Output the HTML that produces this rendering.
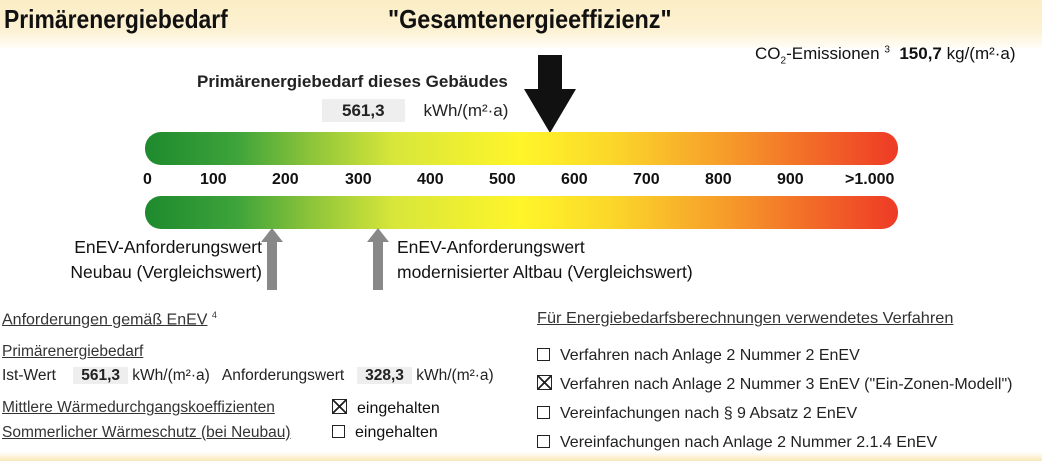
<!DOCTYPE html>
<html><head><meta charset="utf-8"><style>
body{margin:0;width:1042px;height:461px;position:relative;overflow:hidden;background:#fff;font-family:"Liberation Sans",sans-serif;color:#111}
.a{position:absolute;white-space:nowrap}
.hdr{position:absolute;left:0;top:0;width:1042px;height:48px;background:linear-gradient(#fbeec6 0,#fcf1d2 30px,#fffdf6 48px)}
.bar{position:absolute;left:145px;width:753px;border-radius:16px;background:linear-gradient(90deg,#1e8a2e 0%,#3da33a 12%,#8cc43a 22%,#d8e63a 33%,#fff52a 50%,#fbd72a 62%,#f6982a 78%,#ee3a26 100%)}
.gr{background:#eee;padding:0 8px}
u{text-decoration:underline}
.cb{display:inline-block;width:11px;height:11px;border:1px solid #222;vertical-align:-1px;margin-right:10px}
.x{background:linear-gradient(45deg,transparent 45%,#222 45%,#222 55%,transparent 55%),linear-gradient(-45deg,transparent 45%,#222 45%,#222 55%,transparent 55%)}
.foot{position:absolute;left:0;top:452px;width:1042px;height:9px;background:linear-gradient(#fff,#f9e7b6)}
</style></head><body>
<div class="hdr"></div>
<div class="a" style="left:4px;top:4px;font-size:26px;font-weight:bold;transform:scaleX(.88);transform-origin:left">Primärenergiebedarf</div>
<div class="a" style="left:388px;top:4px;font-size:26px;font-weight:bold;transform:scaleX(.9);transform-origin:left">"Gesamtenergieeffizienz"</div>
<div class="a" style="left:755px;top:44px;font-size:17px">CO<sub style="font-size:10px">2</sub>-Emissionen <sup style="font-size:10px">3</sup>&nbsp; <b>150,7</b> kg/(m²·a)</div>
<div class="a" style="left:197px;top:72px;font-size:17px;font-weight:bold;color:#222">Primärenergiebedarf dieses Gebäudes</div>
<div class="a" style="left:322px;top:101px;font-size:17px;color:#222"><span class="gr" style="font-weight:bold;padding:2px 20px">561,3</span>&nbsp;&nbsp;&nbsp; kWh/(m²·a)</div>
<svg class="a" style="left:522px;top:55px" width="56" height="80"><polygon points="16,0 40,0 40,34 54,34 28,78 2,34 16,34" fill="#111"/></svg>
<div class="bar" style="top:132px;height:33px"></div>
<div class="bar" style="top:196px;height:33px"></div>
<div class="a" style="top:171px;left:0;width:1042px;font-size:16px;font-weight:bold">
<span class="a" style="left:143px">0</span><span class="a" style="left:200px">100</span><span class="a" style="left:272px">200</span><span class="a" style="left:345px">300</span><span class="a" style="left:417px">400</span><span class="a" style="left:489px">500</span><span class="a" style="left:561px">600</span><span class="a" style="left:633px">700</span><span class="a" style="left:705px">800</span><span class="a" style="left:777px">900</span><span class="a" style="left:845px">&gt;1.000</span></div>
<svg class="a" style="left:260px;top:228px" width="130" height="64"><polygon points="7,62 17,62 17,14 23,14 12,0 1,14 7,14" fill="#888"/><polygon points="113,62 123,62 123,14 129,14 118,0 107,14 113,14" fill="#888"/></svg>
<div class="a" style="right:780px;top:235px;font-size:17.5px;line-height:25px;text-align:right">EnEV-Anforderungswert<br>Neubau (Vergleichswert)</div>
<div class="a" style="left:397px;top:235px;font-size:17.5px;line-height:25px">EnEV-Anforderungswert<br>modernisierter Altbau (Vergleichswert)</div>
<div class="a" style="left:2px;top:310px;font-size:16px;color:#333"><u>Anforderungen gemäß EnEV</u> <sup style="font-size:9px">4</sup></div>
<div class="a" style="left:2px;top:343px;font-size:15.5px;color:#333"><u>Primärenergiebedarf</u></div>
<div class="a" style="left:2px;top:367px;font-size:15.5px;color:#222">Ist-Wert &nbsp;&nbsp;&nbsp;<b class="gr">561,3</b> kWh/(m²·a) &nbsp; Anforderungswert &nbsp;&nbsp;<b class="gr">328,3</b> kWh/(m²·a)</div>
<div class="a" style="left:2px;top:399px;font-size:15.5px;color:#333"><u>Mittlere Wärmedurchgangskoeffizienten</u></div>
<div class="a" style="left:2px;top:424px;font-size:15.5px;color:#333"><u>Sommerlicher Wärmeschutz (bei Neubau)</u></div>
<div class="a" style="left:332px;top:399px;font-size:16px"><span class="cb x" style="width:13px;height:13px"></span>eingehalten</div>
<div class="a" style="left:332px;top:424px;font-size:16px"><span class="cb"></span>eingehalten</div>
<div class="a" style="left:537px;top:310px;font-size:16px;color:#333;transform:scaleX(1.02);transform-origin:left"><u>Für Energiebedarfsberechnungen verwendetes Verfahren</u></div>
<div class="a" style="left:537px;top:341px;font-size:16px;line-height:29px;color:#222">
<span class="cb"></span>Verfahren nach Anlage 2 Nummer 2 EnEV<br>
<span class="cb x" style="width:13px;height:13px;margin-right:8px"></span>Verfahren nach Anlage 2 Nummer 3 EnEV ("Ein-Zonen-Modell")<br>
<span class="cb"></span>Vereinfachungen nach § 9 Absatz 2 EnEV<br>
<span class="cb"></span>Vereinfachungen nach Anlage 2 Nummer 2.1.4 EnEV</div>
<div class="foot"></div>
</body></html>
